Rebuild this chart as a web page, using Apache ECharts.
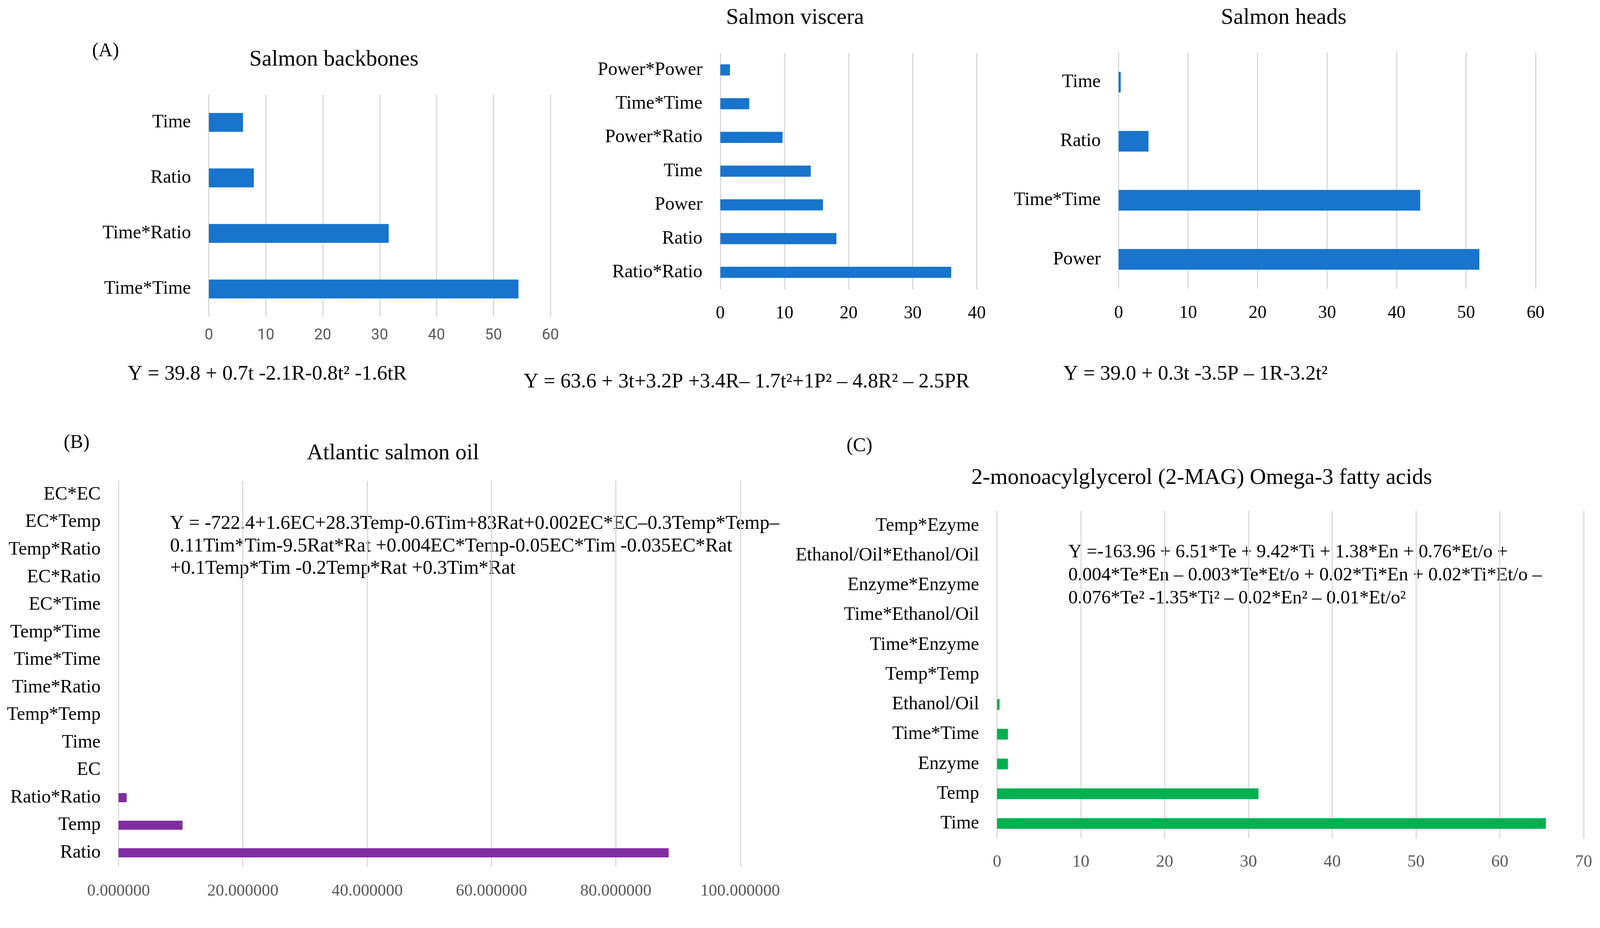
<!DOCTYPE html>
<html>
<head>
<meta charset="utf-8">
<script src="https://cdn.jsdelivr.net/npm/echarts@6/dist/echarts.min.js"></script>
<style>
html,body{margin:0;padding:0;background:#fff;overflow:hidden;}
#chart{width:100vw;height:100vh;}
</style>
</head>
<body>
<div id="chart"></div>
<script>
// ---------- data ----------
const backboneCats = ['Time', 'Ratio', 'Time*Ratio', 'Time*Time'];
const backboneVals = [6.0, 7.9, 31.6, 54.4];
const backboneTicks = [0, 60, 10];

const visceraCats = ['Power*Power', 'Time*Time', 'Power*Ratio', 'Time', 'Power', 'Ratio', 'Ratio*Ratio'];
const visceraVals = [1.5, 4.5, 9.7, 14.1, 16.0, 18.1, 36.0];
const visceraTicks = [0, 40, 10];

const headsCats = ['Time', 'Ratio', 'Time*Time', 'Power'];
const headsVals = [0.3, 4.3, 43.4, 51.9];
const headsTicks = [0, 60, 10];

const oilCats = ['EC*EC', 'EC*Temp', 'Temp*Ratio', 'EC*Ratio', 'EC*Time', 'Temp*Time', 'Time*Time',
  'Time*Ratio', 'Temp*Temp', 'Time', 'EC', 'Ratio*Ratio', 'Temp', 'Ratio'];
const oilVals = [0, 0, 0, 0, 0, 0, 0, 0, 0, 0, 0, 1.3, 10.3, 88.5];
const oilTicks = [0, 100, 20];

const magCats = ['Temp*Ezyme', 'Ethanol/Oil*Ethanol/Oil', 'Enzyme*Enzyme', 'Time*Ethanol/Oil', 'Time*Enzyme',
  'Temp*Temp', 'Ethanol/Oil', 'Time*Time', 'Enzyme', 'Temp', 'Time'];
const magVals = [0, 0, 0, 0, 0, 0, 0.3, 1.3, 1.3, 31.2, 65.5];
const magTicks = [0, 70, 10];

const panelTitles = ['Salmon backbones', 'Salmon viscera', 'Salmon heads', 'Atlantic salmon oil',
  '2-monoacylglycerol (2-MAG) Omega-3 fatty acids'];
const panelLetters = ['(A)', '(B)', '(C)'];
const equations = [
  'Y = 39.8 + 0.7t -2.1R-0.8t\u00b2 -1.6tR',
  'Y = 63.6 + 3t+3.2P +3.4R\u2013 1.7t\u00b2+1P\u00b2 \u2013 4.8R\u00b2 \u2013 2.5PR',
  'Y = 39.0 + 0.3t -3.5P \u2013 1R-3.2t\u00b2',
  'Y = -722.4+1.6EC+28.3Temp-0.6Tim+83Rat+0.002EC*EC\u20130.3Temp*Temp\u2013\n0.11Tim*Tim-9.5Rat*Rat +0.004EC*Temp-0.05EC*Tim -0.035EC*Rat\n+0.1Temp*Tim -0.2Temp*Rat +0.3Tim*Rat',
  'Y =-163.96 + 6.51*Te + 9.42*Ti + 1.38*En + 0.76*Et/o +\n0.004*Te*En \u2013 0.003*Te*Et/o + 0.02*Ti*En + 0.02*Ti*Et/o \u2013\n0.076*Te\u00b2 -1.35*Ti\u00b2 \u2013 0.02*En\u00b2 \u2013 0.01*Et/o\u00b2'
];

// ---------- layout scaling (layout designed for 4198 x 2376) ----------
const el = document.getElementById('chart');
const W = el.clientWidth || window.innerWidth, H = el.clientHeight || window.innerHeight;
const sx = W / 4198, sy = (H / 2376) * 0.977, sf = Math.min(sx, sy);
const X = v => v * sx, Y = v => v * sy, F = v => v * sf;

// ---------- styles ----------
const SERIF = "'Liberation Serif', 'DejaVu Serif', serif";
const SANS = "'Liberation Sans Narrow', 'Roboto', 'Liberation Sans', sans-serif";
const BLUE = '#1874CD';
const PURPLE = '#7F2CA1';
const GREEN = '#00B050';

const panels = [
  { cats: backboneCats, vals: backboneVals, ticks: backboneTicks, color: BLUE,
    grid: [548, 248, 896, 582], bw: '34%',
    tickFont: SANS, tickSize: 40, tickColor: '#595959', tickMargin: 30, fmt: v => String(v) },
  { cats: visceraCats, vals: visceraVals, ticks: visceraTicks, color: BLUE,
    grid: [1890, 139, 673, 619], bw: '33%',
    tickFont: SERIF, tickSize: 47, tickColor: '#000', tickMargin: 40, fmt: v => String(v) },
  { cats: headsCats, vals: headsVals, ticks: headsTicks, color: BLUE,
    grid: [2935, 138, 1094, 619], bw: '35%',
    tickFont: SERIF, tickSize: 47, tickColor: '#000', tickMargin: 40, fmt: v => String(v) },
  { cats: oilCats, vals: oilVals, ticks: oilTicks, color: PURPLE,
    grid: [311, 1260, 1631, 1011], bw: '33%',
    tickFont: SERIF, tickSize: 44, tickColor: '#595959', tickMargin: 42, fmt: v => v.toFixed(6) },
  { cats: magCats, vals: magVals, ticks: magTicks, color: GREEN,
    grid: [2616, 1339, 1539, 858], bw: '36%',
    tickFont: SERIF, tickSize: 45, tickColor: '#595959', tickMargin: 40, fmt: v => String(v) }
];

const grids = [], xAxes = [], yAxes = [], series = [];
panels.forEach((p, i) => {
  grids.push({ left: X(p.grid[0]), top: Y(p.grid[1]), width: X(p.grid[2]), height: Y(p.grid[3]), containLabel: false });
  xAxes.push({
    type: 'value', gridIndex: i, min: p.ticks[0], max: p.ticks[1], interval: p.ticks[2],
    axisLine: { show: false }, axisTick: { show: false },
    splitLine: { show: true, lineStyle: { color: '#d9d9d9', width: F(3) } },
    axisLabel: { fontFamily: p.tickFont, fontSize: F(p.tickSize), color: p.tickColor, margin: Y(p.tickMargin),
      formatter: p.fmt }
  });
  yAxes.push({
    type: 'category', gridIndex: i, data: p.cats, inverse: true,
    axisLine: { show: false }, axisTick: { show: false }, splitLine: { show: false },
    axisLabel: { fontFamily: SERIF, fontSize: F(49), color: '#000', margin: X(47), interval: 0 }
  });
  series.push({
    type: 'bar', xAxisIndex: i, yAxisIndex: i, data: p.vals, barWidth: p.bw,
    itemStyle: { color: p.color }, silent: true
  });
});

function txt(x, y, text, size, align, vAlign, lh) {
  return { type: 'text', x: X(x), y: Y(y), silent: true,
    style: { text: text, font: F(size) + 'px ' + SERIF, fill: '#000', align: align || 'center',
      verticalAlign: vAlign || 'middle', lineHeight: Y(lh || size * 1.2) } };
}

const graphics = [
  txt(277, 134, panelLetters[0], 51),
  txt(201, 1161, panelLetters[1], 51),
  txt(2255, 1169, panelLetters[2], 51),
  txt(876, 156, panelTitles[0], 59),
  txt(2086, 47, panelTitles[1], 59),
  txt(3368, 47, panelTitles[2], 59),
  txt(1031, 1188, panelTitles[3], 59),
  txt(3153, 1253, panelTitles[4], 59),
  txt(335, 981, equations[0], 54, 'left'),
  txt(1374, 1001, equations[1], 54, 'left'),
  txt(2790, 981, equations[2], 54, 'left'),
  txt(446, 1343, equations[3], 51, 'left', 'top', 59),
  txt(2803, 1418, equations[4], 49.5, 'left', 'top', 60)
];

const chart = echarts.init(el, null, { renderer: 'canvas' });
chart.setOption({
  backgroundColor: '#ffffff',
  animation: false,
  grid: grids,
  xAxis: xAxes,
  yAxis: yAxes,
  series: series,
  graphic: graphics
});
</script>
</body>
</html>
